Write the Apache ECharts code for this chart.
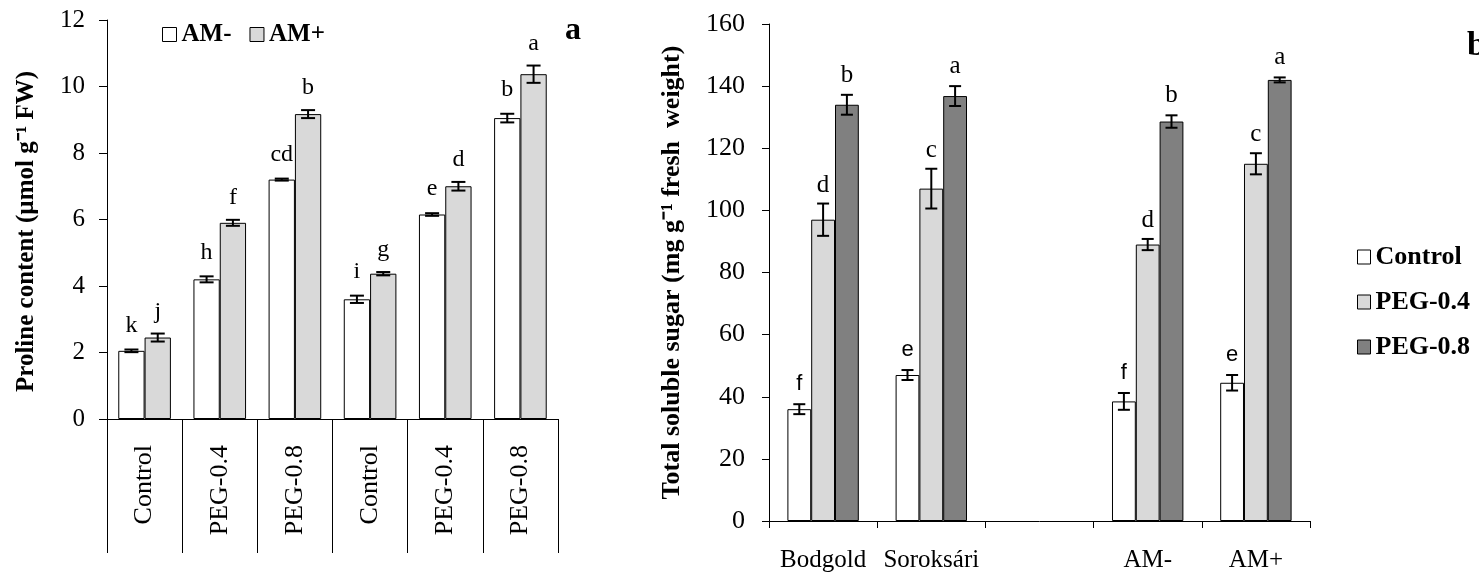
<!DOCTYPE html>
<html>
<head>
<meta charset="utf-8">
<script src="https://cdn.jsdelivr.net/npm/echarts/dist/echarts.min.js"></script>
<style>
  html, body { margin: 0; padding: 0; background: #fff; }
  #main { width: 1479px; height: 575px; }
</style>
</head>
<body>
<div id="main"></div>
<script>
// panel a: proline content
const prolineCats = ["Control", "PEG-0.4", "PEG-0.8", "Control", "PEG-0.4", "PEG-0.8"];
const amMinus = [2.05, 4.2, 7.2, 3.6, 6.15, 9.05];
const amMinusErr = [0.04, 0.09, 0.03, 0.11, 0.04, 0.13];
const amMinusLetters = ["k", "h", "cd", "i", "e", "b"];
const amPlus = [2.45, 5.9, 9.17, 4.37, 7.0, 10.37];
const amPlusErr = [0.12, 0.09, 0.12, 0.05, 0.13, 0.26];
const amPlusLetters = ["j", "f", "b", "g", "d", "a"];

// panel b: total soluble sugar
const sugarCats = ["Bodgold", "Soroksári", "", "AM-", "AM+"];
const control = [36, 47, null, 38.5, 44.5];
const controlErr = [1.6, 1.6, null, 2.7, 2.5];
const controlLetters = ["f", "e", null, "f", "e"];
const peg04 = [97, 107, null, 89, 115];
const peg04Err = [5.2, 6.4, null, 1.8, 3.4];
const peg04Letters = ["d", "c", null, "d", "c"];
const peg08 = [134, 136.8, null, 128.6, 142];
const peg08Err = [3.2, 3.2, null, 2, 0.8];
const peg08Letters = ["b", "a", null, "b", "a"];

const serif = "Liberation Serif";
const sans = "Liberation Sans";

const chart = echarts.init(document.getElementById("main"));

function errData(vals, errs) {
  const out = [];
  vals.forEach((v, i) => {
    if (v != null) out.push([i, v, errs[i]]);
  });
  return out;
}

// error bar + significance letter, offset is fraction of the category band
function errorSeries(name, xi, vals, errs, letters, offset, cap, font, gap) {
  return {
    name: name,
    type: "custom",
    xAxisIndex: xi,
    yAxisIndex: xi,
    z: 5,
    data: errData(vals, errs),
    renderItem: function (params, api) {
      const idx = api.value(0);
      const v = api.value(1);
      const e = api.value(2);
      const band = api.size([1, 0])[0];
      const cx = api.coord([idx, v])[0] + offset * band;
      const yTop = api.coord([idx, v + e])[1];
      const yBot = api.coord([idx, v - e])[1];
      const ls = { stroke: "#000", lineWidth: 2 };
      return {
        type: "group",
        children: [
          { type: "line", shape: { x1: cx, y1: yTop, x2: cx, y2: yBot }, style: ls },
          { type: "line", shape: { x1: cx - cap, y1: yTop, x2: cx + cap, y2: yTop }, style: ls },
          { type: "line", shape: { x1: cx - cap, y1: yBot, x2: cx + cap, y2: yBot }, style: ls },
          {
            type: "text",
            style: {
              text: letters[idx],
              x: cx,
              y: yTop - gap,
              align: "center",
              verticalAlign: "bottom",
              font: font,
              fill: "#000",
            },
          },
        ],
      };
    },
  };
}

const barBorder = { borderColor: "#000", borderWidth: 1 };

const option = {
  animation: false,
  backgroundColor: "#fff",
  title: [
    { text: "a", left: 560, top: 10, textStyle: { fontFamily: serif, fontSize: 32, fontWeight: "bold", color: "#000" } },
    { text: "b", left: 1462, top: 24, textStyle: { fontFamily: serif, fontSize: 34, fontWeight: "bold", color: "#000" } },
  ],
  legend: [
    {
      data: ["AM-", "AM+"],
      left: 157,
      top: 17,
      itemWidth: 14,
      itemHeight: 14,
      itemGap: 18,
      icon: "rect",
      itemStyle: { borderColor: "#000", borderWidth: 1 },
      textStyle: { fontFamily: serif, fontSize: 25, fontWeight: "bold", color: "#000" },
    },
    {
      data: ["Control", "PEG-0.4", "PEG-0.8"],
      orient: "vertical",
      left: 1352,
      top: 239,
      itemWidth: 13,
      itemHeight: 14,
      itemGap: 19,
      icon: "rect",
      itemStyle: { borderColor: "#000", borderWidth: 1 },
      textStyle: { fontFamily: serif, fontSize: 26, fontWeight: "bold", color: "#000" },
    },
  ],
  grid: [
    { left: 107, top: 20, width: 451, height: 399 },
    { left: 769, top: 24, width: 541, height: 497 },
  ],
  xAxis: [
    {
      type: "category",
      gridIndex: 0,
      data: prolineCats,
      axisLine: { lineStyle: { color: "#000", width: 1 } },
      axisTick: { show: true, interval: 0, length: 134, lineStyle: { color: "#000" } },
      axisLabel: { interval: 0, rotate: 90, margin: 26, fontFamily: serif, fontSize: 26, color: "#000" },
    },
    {
      type: "category",
      gridIndex: 1,
      data: sugarCats,
      axisLine: { lineStyle: { color: "#000", width: 1 } },
      axisTick: { show: true, interval: 0, length: 7, lineStyle: { color: "#000" } },
      axisLabel: { interval: 0, margin: 27, fontFamily: serif, fontSize: 25, color: "#000" },
    },
  ],
  yAxis: [
    {
      type: "value",
      gridIndex: 0,
      min: 0,
      max: 12,
      interval: 2,
      name: "Proline content (µmol g⁻¹ FW)",
      nameLocation: "middle",
      nameGap: 68,
      nameTextStyle: { fontFamily: serif, fontSize: 25, fontWeight: "bold", color: "#000", padding: [0, 24, 0, 0] },
      axisLine: { show: true, lineStyle: { color: "#000" } },
      axisTick: { show: true, length: 8, lineStyle: { color: "#000" } },
      axisLabel: { margin: 22, fontFamily: serif, fontSize: 25, color: "#000" },
      splitLine: { show: false },
    },
    {
      type: "value",
      gridIndex: 1,
      min: 0,
      max: 160,
      interval: 20,
      name: "Total soluble sugar (mg g⁻¹ fresh  weight)",
      nameLocation: "middle",
      nameGap: 84,
      nameTextStyle: { fontFamily: serif, fontSize: 26, fontWeight: "bold", color: "#000" },
      axisLine: { show: true, lineStyle: { color: "#000" } },
      axisTick: { show: true, length: 7, lineStyle: { color: "#000" } },
      axisLabel: { margin: 24, fontFamily: serif, fontSize: 26, color: "#000" },
      splitLine: { show: false },
    },
  ],
  series: [
    { name: "AM-", type: "bar", xAxisIndex: 0, yAxisIndex: 0, data: amMinus, barWidth: "35%", barGap: "0%", itemStyle: Object.assign({ color: "#ffffff" }, barBorder) },
    { name: "AM+", type: "bar", xAxisIndex: 0, yAxisIndex: 0, data: amPlus, barWidth: "35%", barGap: "0%", itemStyle: Object.assign({ color: "#d9d9d9" }, barBorder) },
    { name: "Control", type: "bar", xAxisIndex: 1, yAxisIndex: 1, data: control, barWidth: "22%", barGap: "0%", itemStyle: Object.assign({ color: "#ffffff" }, barBorder) },
    { name: "PEG-0.4", type: "bar", xAxisIndex: 1, yAxisIndex: 1, data: peg04, barWidth: "22%", barGap: "0%", itemStyle: Object.assign({ color: "#d9d9d9" }, barBorder) },
    { name: "PEG-0.8", type: "bar", xAxisIndex: 1, yAxisIndex: 1, data: peg08, barWidth: "22%", barGap: "0%", itemStyle: Object.assign({ color: "#808080" }, barBorder) },
    errorSeries("errAMminus", 0, amMinus, amMinusErr, amMinusLetters, -0.175, 7, "24px " + serif, 12),
    errorSeries("errAMplus", 0, amPlus, amPlusErr, amPlusLetters, 0.175, 7, "24px " + serif, 10),
    errorSeries("errControl", 1, control, controlErr, controlLetters, -0.22, 6, "22px " + sans, 9),
    errorSeries("errPeg04", 1, peg04, peg04Err, peg04Letters, 0, 6, "25px " + serif, 6),
    errorSeries("errPeg08", 1, peg08, peg08Err, peg08Letters, 0.22, 6, "25px " + serif, 7),
  ],
};

chart.setOption(option);
</script>
</body>
</html>
